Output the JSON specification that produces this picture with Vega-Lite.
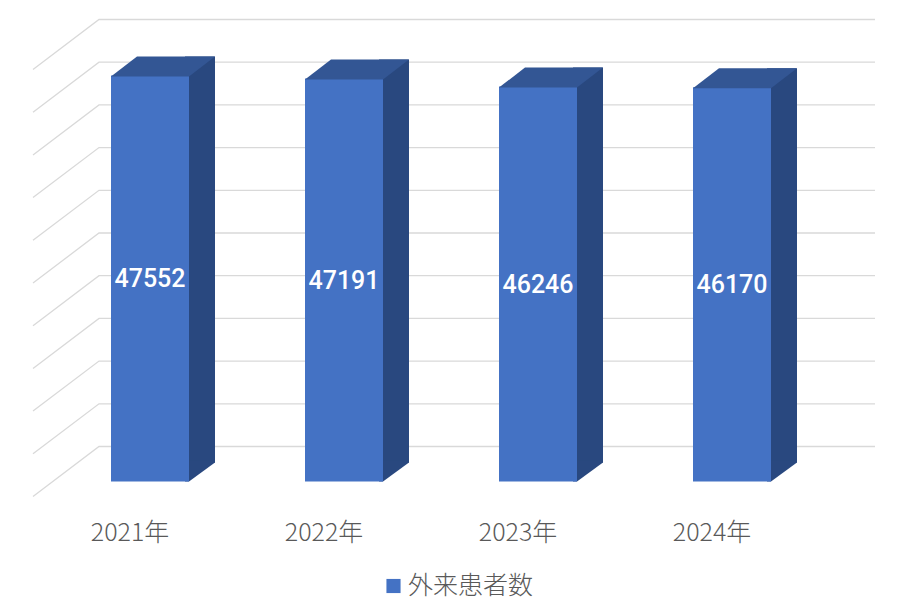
{
"$schema":"https://vega.github.io/schema/vega-lite/v6.json",
"width":776,"height":427,"autosize":"none",
"padding":{"left":33,"top":69.5,"right":101,"bottom":118.5},
"background":"white",
"datasets":{
"bars":[{"year":"2021年","value":47552,"series":"外来患者数"},{"year":"2022年","value":47191,"series":"外来患者数"},{"year":"2023年","value":46246,"series":"外来患者数"},{"year":"2024年","value":46170,"series":"外来患者数"}],
"grid":[{"v":0},{"v":5000},{"v":10000},{"v":15000},{"v":20000},{"v":25000},{"v":30000},{"v":35000},{"v":40000},{"v":45000},{"v":50000}]
},
"encoding":{"x":{"field":"year","type":"nominal","sort":null,"scale":{"paddingInner":0,"paddingOuter":0},
"axis":{"title":null,"domain":false,"ticks":false,"grid":false,"labelAngle":0,"labelFont":"Noto Sans CJK JP","labelFontSize":25,"labelFontWeight":300,"labelColor":"#595959","labelPadding":24}}},
"layer":[
{"data":{"name":"grid"},"mark":{"type":"point","shape":"M-97,0L-31,-50L745,-50","size":4,"filled":false,"stroke":"#D9D9D9","strokeWidth":1.3,"opacity":1},
 "encoding":{"x":{"datum":"2021年"},"y":{"field":"v","type":"quantitative","scale":{"domain":[0,50000]},"axis":null}}},
{"data":{"name":"bars"},"mark":{"type":"bar","width":30,"xOffset":70,"yOffset":-34,"y2Offset":-34,"color":"#29487F"},
 "encoding":{"y":{"field":"value","type":"quantitative","scale":{"domain":[0,50000]},"axis":null}}},
{"data":{"name":"bars"},"mark":{"type":"point","shape":"M55,-15L59,-15L85,-34L85,-36L55,-36Z","size":4,"filled":true,"color":"#29487F","opacity":1},
 "encoding":{"y":{"datum":0,"scale":{"domain":[0,50000]},"axis":null}}},
{"data":{"name":"bars"},"mark":{"type":"bar","width":78,"xOffset":20,"yOffset":-15,"y2Offset":-15},
 "encoding":{"y":{"field":"value","type":"quantitative","scale":{"domain":[0,50000]},"axis":null},
 "color":{"field":"series","type":"nominal","scale":{"range":["#4472C4"]},
 "legend":{"title":null,"orient":"none","legendX":348,"legendY":504,"symbolType":"square","symbolSize":200,"labelOffset":2,"labelFont":"Noto Sans CJK JP","labelFontSize":25,"labelFontWeight":300,"labelColor":"#595959","labelLimit":300}}}},
{"data":{"name":"bars"},"mark":{"type":"point","shape":"M-19,-14L59,-14L85,-34L7,-34Z","size":4,"filled":true,"color":"#335694","opacity":1},
 "encoding":{"y":{"field":"value","type":"quantitative","scale":{"domain":[0,50000]},"axis":null}}},
{"data":{"name":"bars"},"mark":{"type":"text","xOffset":20,"yOffset":-14,"font":"Roboto","fontSize":25,"fontWeight":500,"color":"white","baseline":"middle"},
 "encoding":{"y":{"field":"value","type":"quantitative","scale":{"domain":[0,100000]},"axis":null},"text":{"field":"value","type":"quantitative","format":"d"}}}
],
"resolve":{"scale":{"y":"independent"}},
"config":{"view":{"stroke":null}}
}
